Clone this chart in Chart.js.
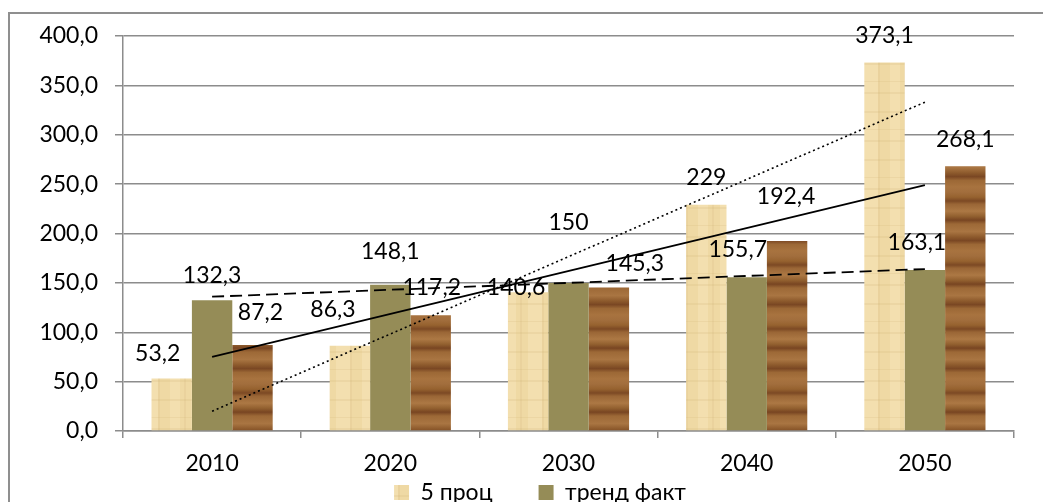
<!DOCTYPE html>
<html>
<head>
<meta charset="utf-8">
<script src="https://cdn.jsdelivr.net/npm/chart.js@4.4.1/dist/chart.umd.min.js"></script>
<style>
  html, body { margin: 0; padding: 0; background: #fff; overflow: hidden; }
  #frame { position: absolute; left: 0; top: 0; width: 1043px; height: 502px; overflow: hidden; background: #fff; }
  #edge { position: absolute; left: 8px; top: 12px; width: 1200px; height: 700px;
          border-left: 2px solid #8f8f8f; border-top: 2px solid #8f8f8f; }
  #c { position: absolute; left: 0; top: 0; }
</style>
</head>
<body>
<div id="frame">
  <div id="edge"></div>
  <canvas id="c" width="1043" height="567"></canvas>
</div>
<script>
// ---- data ----
const years = ['2010', '2020', '2030', '2040', '2050'];
const fiveProc = [53.2, 86.3, 140.6, 229, 373.1];
const trendFact = [132.3, 148.1, 150, 155.7, 163.1];
const thirdSeries = [87.2, 117.2, 145.3, 192.4, 268.1];

// linear trend lines, values at 2010 and 2050
const fiveProcTrend = [20, 333];
const trendFactTrend = [136, 164];
const thirdTrend = [75, 249];

const yMin = 0, yMax = 400, yStep = 50;

// ---- label nudges in px [dx, dy], relative to a spot just above each bar ----
const labelNudge = [
  [[-14, 2], [-17, -9], [-12, 22], [0, 0], [0, 0]],
  [[0, 2], [0, -6], [0, -33], [-9, -1], [-8, 0]],
  [[8, -5], [1, -1], [26, 3], [-1, -17], [0, 0]]
];

const FONT = 'Lato, "Open Sans", sans-serif';
const FONT_SIZE = 23;
const fmt = v => Number.isInteger(v) ? String(v) : v.toFixed(1).replace('.', ',');

// ---- textures ----
function makePapyrus() {
  const c = document.createElement('canvas');
  c.width = 48; c.height = 48;
  const g = c.getContext('2d');
  g.fillStyle = '#EFD9A4'; g.fillRect(0, 0, 48, 48);
  g.fillStyle = 'rgba(248,230,185,0.5)'; g.fillRect(0, 0, 14, 48); g.fillRect(26, 0, 10, 48);
  g.fillStyle = 'rgba(214,186,128,0.2)'; g.fillRect(14, 0, 2, 48); g.fillRect(40, 0, 2, 48);
  g.fillStyle = 'rgba(205,175,115,0.18)';
  g.fillRect(0, 15, 48, 2); g.fillRect(0, 33, 48, 1); g.fillRect(0, 44, 48, 2);
  return g.createPattern(c, 'repeat');
}
function makeWood() {
  const c = document.createElement('canvas');
  c.width = 8; c.height = 64;
  const g = c.getContext('2d');
  const grd = g.createLinearGradient(0, 0, 0, 64);
  const stops = [
    [0.00, '#A26E3D'], [0.08, '#96622F'], [0.14, '#7C4924'], [0.19, '#9A6636'],
    [0.30, '#AC7844'], [0.38, '#92602F'], [0.44, '#784522'], [0.50, '#9D6937'],
    [0.62, '#A97542'], [0.70, '#8E5B2D'], [0.76, '#7A4723'], [0.82, '#9C6836'],
    [0.92, '#A8733F'], [1.00, '#A26E3D']
  ];
  stops.forEach(([p, col]) => grd.addColorStop(p, col));
  g.fillStyle = grd;
  g.fillRect(0, 0, 8, 64);
  return g.createPattern(c, 'repeat');
}

const papyrus = makePapyrus();
const wood = makeWood();
const olive = '#958C57';

// ---- value labels above the bars ----
const barLabels = {
  id: 'barLabels',
  afterDatasetsDraw(chart) {
    const ctx = chart.ctx;
    ctx.save();
    ctx.font = FONT_SIZE + 'px ' + FONT;
    ctx.fillStyle = '#000';
    ctx.textAlign = 'center';
    ctx.textBaseline = 'middle';
    [0, 1, 2].forEach(di => {
      const meta = chart.getDatasetMeta(di);
      const values = chart.data.datasets[di].data;
      meta.data.forEach((bar, i) => {
        const [dx, dy] = labelNudge[di][i];
        ctx.fillText(fmt(values[i]), bar.x + dx, bar.y - 27 + dy);
      });
    });
    ctx.restore();
  }
};

// legend row: centred a little right of the canvas middle and tucked up under the axis
const legendShift = {
  id: 'legendShift',
  afterLayout(chart) {
    const lg = chart.legend;
    lg.left += 29; lg.right += 29;
    lg.top -= 37; lg.bottom -= 37;
  }
};

const gridColor = '#8c8c8c';

new Chart(document.getElementById('c'), {
  data: {
    labels: years,
    datasets: [
      { type: 'bar', label: '5 проц', data: fiveProc, backgroundColor: papyrus, borderWidth: 0, order: 2 },
      { type: 'bar', label: 'тренд факт', data: trendFact, backgroundColor: olive, borderWidth: 0, order: 2 },
      { type: 'bar', label: 'ряд 3', data: thirdSeries, backgroundColor: wood, borderWidth: 0, order: 2 },
      { type: 'line', label: 'тренд 5 проц',
        data: [{ x: years[0], y: fiveProcTrend[0] }, { x: years[4], y: fiveProcTrend[1] }],
        borderColor: '#000', borderWidth: 1.6, borderDash: [2, 3], pointRadius: 0, tension: 0, fill: false, order: 0 },
      { type: 'line', label: 'тренд ряд 3',
        data: [{ x: years[0], y: thirdTrend[0] }, { x: years[4], y: thirdTrend[1] }],
        borderColor: '#000', borderWidth: 1.8, pointRadius: 0, tension: 0, fill: false, order: 0 },
      { type: 'line', label: 'тренд тренд факт',
        data: [{ x: years[0], y: trendFactTrend[0] }, { x: years[4], y: trendFactTrend[1] }],
        borderColor: '#000', borderWidth: 1.8, borderDash: [12, 6], pointRadius: 0, tension: 0, fill: false, order: 0 }
    ]
  },
  options: {
    responsive: false,
    animation: false,
    datasets: { bar: { categoryPercentage: 0.68, barPercentage: 1.0 } },
    layout: { padding: { left: 8, top: 36, right: 29, bottom: 16 } },
    plugins: {
      tooltip: { enabled: false },
      legend: {
        position: 'bottom',
        labels: {
          font: { family: FONT, size: FONT_SIZE },
          color: '#000',
          boxWidth: 15,
          boxHeight: 15,
          padding: 46,
          filter: item => item.datasetIndex < 2
        }
      }
    },
    scales: {
      x: {
        type: 'category',
        offset: true,
        grid: { drawOnChartArea: false, drawTicks: true, tickLength: 7, color: gridColor, lineWidth: 1.5, offset: true },
        border: { display: true, color: gridColor, width: 1.5 },
        ticks: { font: { family: FONT, size: FONT_SIZE }, color: '#000', padding: 12 },
        afterFit: s => { s.height = 41; }
      },
      y: {
        min: yMin,
        max: yMax,
        grid: { color: gridColor, lineWidth: 1.5, tickLength: 8 },
        border: { display: true, color: gridColor, width: 1.5 },
        ticks: {
          stepSize: yStep,
          font: { family: FONT, size: FONT_SIZE },
          color: '#000',
          padding: 17,
          callback: v => v.toFixed(1).replace('.', ',')
        },
        afterFit: s => { s.width = 115; }
      }
    }
  },
  plugins: [barLabels, legendShift]
});
</script>
</body>
</html>
